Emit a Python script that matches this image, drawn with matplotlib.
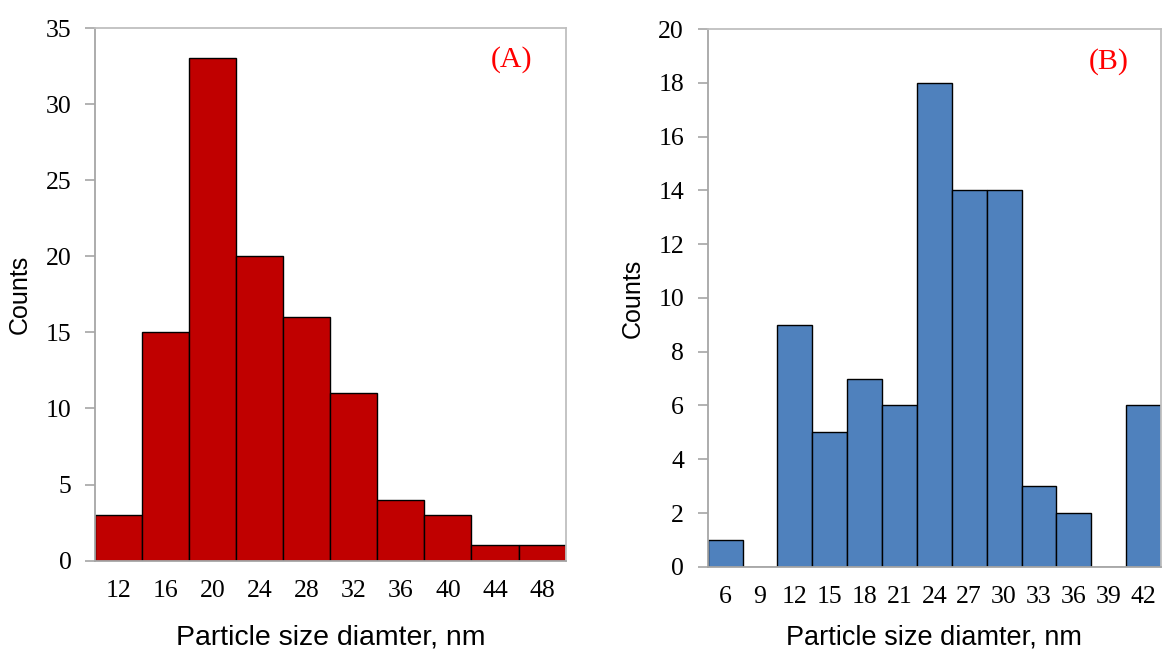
#!/usr/bin/env python3
"""
Particle size distribution histograms, panels (A) and (B)
"""

import matplotlib.pyplot as plt
import numpy as np

# Panel A: particle size bins (nm) and counts
sizes_a = [12, 16, 20, 24, 28, 32, 36, 40, 44, 48]
counts_a = [3, 15, 33, 20, 16, 11, 4, 3, 1, 1]

# Panel B: particle size bins (nm) and counts
sizes_b = [6, 9, 12, 15, 18, 21, 24, 27, 30, 33, 36, 39, 42]
counts_b = [1, 0, 9, 5, 7, 6, 18, 14, 14, 3, 2, 0, 6]

XLABEL = 'Particle size diamter, nm'
YLABEL = 'Counts'

SERIF = ['Liberation Serif', 'DejaVu Serif']
SANS = ['Liberation Sans', 'DejaVu Sans']


def draw_panel(ax, sizes, counts, color, ymax, ystep, tag, xl_size, xl_pad):
    x = np.arange(len(sizes))
    ax.bar(x, counts, width=1.0, color=color, edgecolor='black', linewidth=1.0)
    ax.set_xlim(-0.5, len(sizes) - 0.5)
    ax.set_ylim(0, ymax)
    ax.set_xticks(x)
    ax.set_xticklabels([str(s) for s in sizes], family=SERIF, fontsize=18.5)
    ax.set_yticks(np.arange(0, ymax + ystep, ystep))
    ax.set_yticklabels([str(v) for v in np.arange(0, ymax + ystep, ystep)],
                       family=SERIF, fontsize=18.5)
    ax.tick_params(axis='x', length=0, pad=14)
    ax.tick_params(axis='y', length=7, width=1.2, color='#A6A6A6', pad=10)

    for side in ('left', 'bottom'):
        ax.spines[side].set_color('#A6A6A6')
        ax.spines[side].set_linewidth(1.3)
    for side in ('top', 'right'):
        ax.spines[side].set_color('#BFBFBF')
        ax.spines[side].set_linewidth(1.3)

    ax.set_xlabel(XLABEL, family=SANS, fontsize=xl_size, labelpad=xl_pad)
    ax.set_ylabel(YLABEL, family=SANS, fontsize=18, labelpad=10)
    ax.text(0.885, 0.94, tag, transform=ax.transAxes, color='red',
            family=SERIF, fontsize=21.5, ha='center', va='center')


fig = plt.figure(figsize=(11.63, 6.55), dpi=100)
ax_a = fig.add_axes([0.0817, 0.1441, 0.4046, 0.8131])
ax_b = fig.add_axes([0.6085, 0.1347, 0.3898, 0.8208])

draw_panel(ax_a, sizes_a, counts_a, '#C00000', 35, 5, '(A)', 20.5, 16)
draw_panel(ax_b, sizes_b, counts_b, '#4F81BD', 20, 2, '(B)', 19.5, 12)

fig.savefig('out.png', dpi=100)
